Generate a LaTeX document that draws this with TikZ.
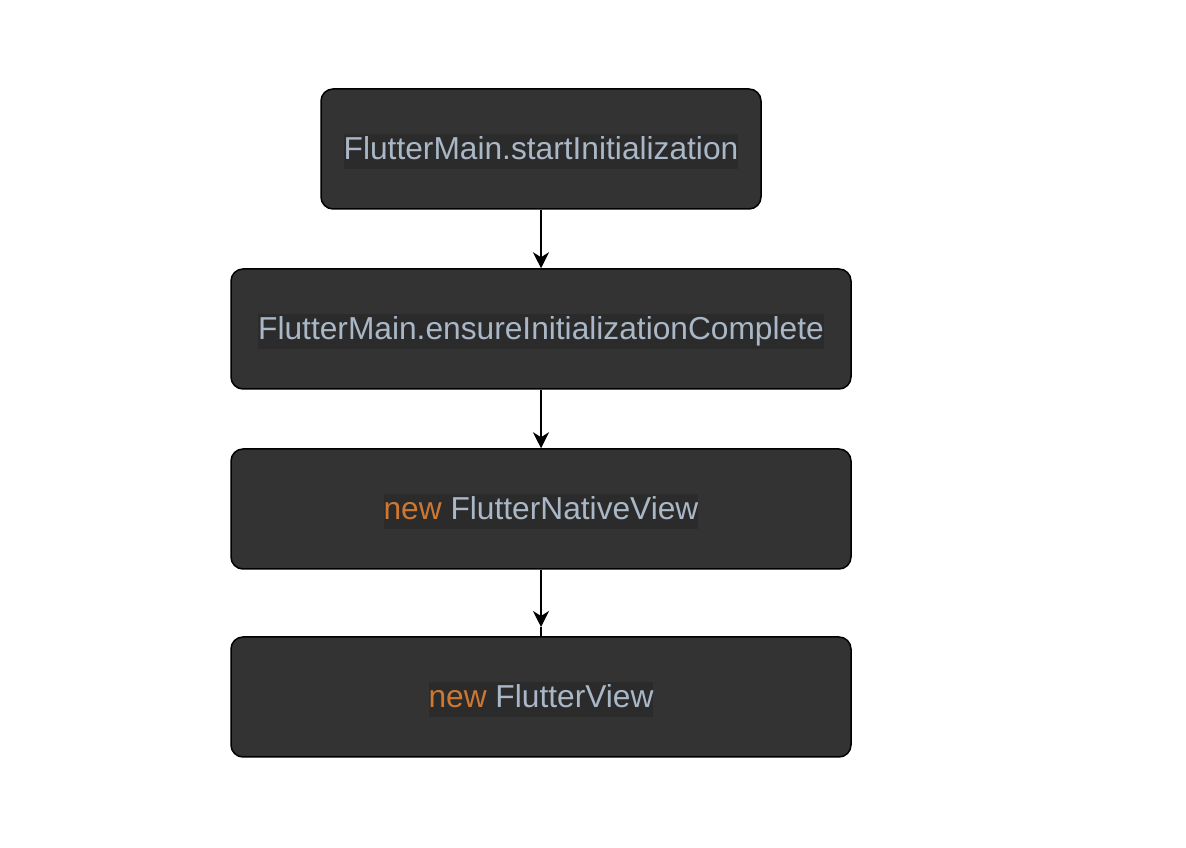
\documentclass[tikz,border=0pt]{standalone}
\usepackage{fontspec}
\setmainfont{Liberation Sans}
\usetikzlibrary{arrows.meta}
\definecolor{boxfill}{HTML}{333333}
\definecolor{hlfill}{HTML}{2B2B2B}
\definecolor{codetext}{HTML}{A9B7C6}
\definecolor{keyword}{HTML}{CC7832}
\newcommand{\codelabel}[1]{{\setlength\fboxsep{0pt}\raisebox{-2.5pt}[\height][\depth]{\colorbox{hlfill}{\rule[-0.3em]{0pt}{1.13em}#1}}}}
\begin{document}
\begin{tikzpicture}[x=1pt,y=1pt]

\tikzset{block/.style = {shape=rectangle,draw=black,fill=boxfill,line width=1.5pt,rounded corners=12pt,
  minimum width=620pt,minimum height=120pt,inner sep=0pt,text=codetext,font=\fontsize{31.7}{36}\selectfont}}
\tikzset{edge/.style = {line width=1.5pt,-{Stealth[length=16pt,width=16pt,inset=5pt]}}}
\useasboundingbox (0,0) rectangle (1186,848);
%blocks
\node[block, minimum width=440pt] (1) at (541,699) {\codelabel{FlutterMain.startInitialization}};
\node[block] (2) at (541,519) {\codelabel{FlutterMain.ensureInitializationComplete}};
\node[block] (3) at (541,339) {\codelabel{\textcolor{keyword}{new} FlutterNativeView}};
\node[block] (4) at (541,151) {\codelabel{\textcolor{keyword}{new} FlutterView}};
\coordinate (tip) at (541,221);
%arrows
\draw [edge] (1) -- (2);
\draw [edge] (2) -- (3);
\draw [edge] (3) -- (tip);
\draw [line width=1.5pt] (tip) -- (4);

\end{tikzpicture}
\end{document}
